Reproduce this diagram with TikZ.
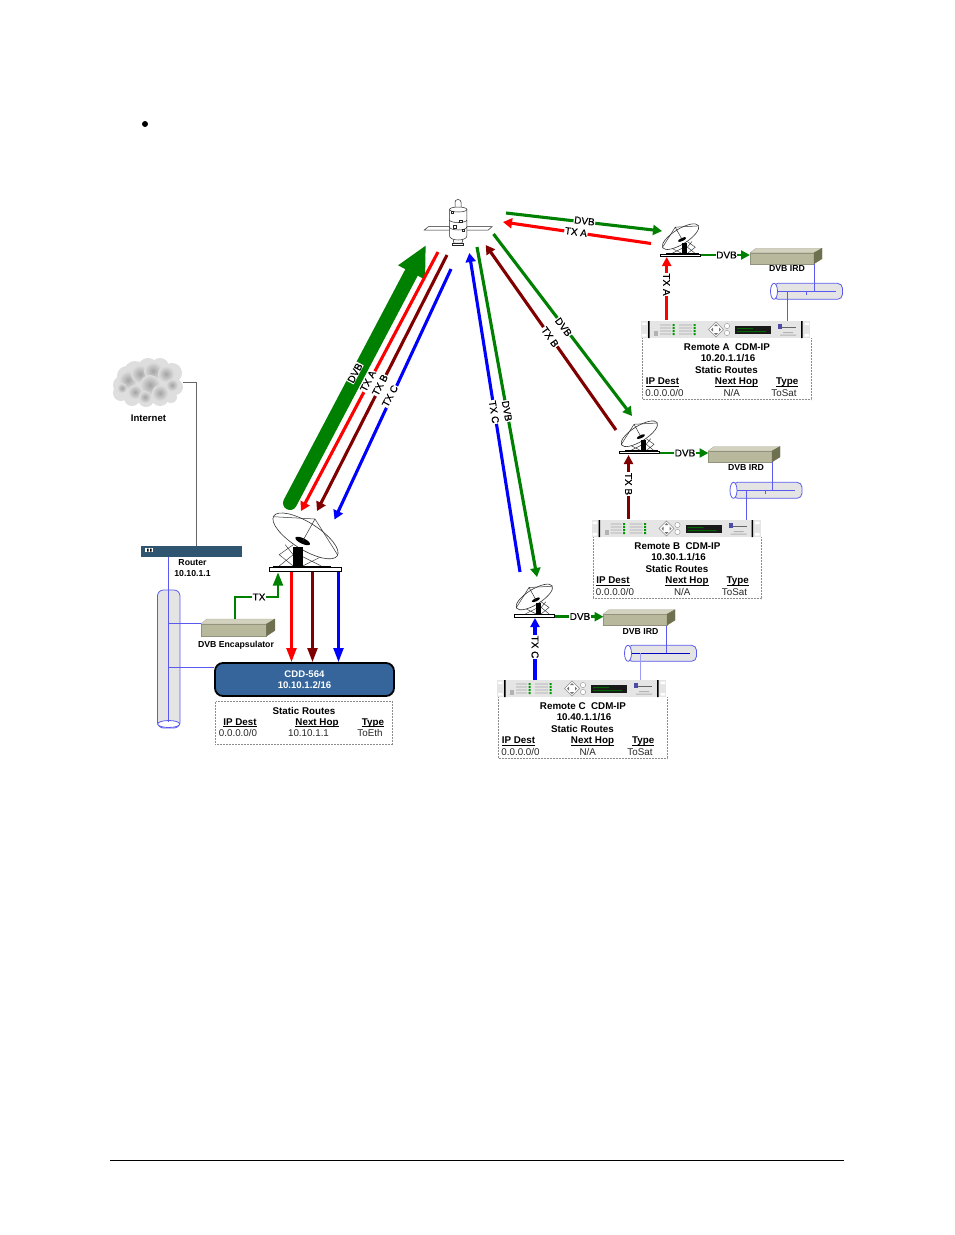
\documentclass[tikz,border=0pt]{standalone}
\usepackage{fontspec}
\setmainfont{Liberation Sans}
\newfontfamily\labfont[FakeBold=0.35]{Liberation Sans}
\usetikzlibrary{arrows.meta}
\newcommand{\ulx}[1]{\setbox0\hbox{#1}\rlap{\rule[-1.5pt]{\wd0}{0.7pt}}\box0 }
\definecolor{cgreen}{HTML}{008000}
\definecolor{cred}{HTML}{FF0000}
\definecolor{cdark}{HTML}{800000}
\definecolor{cblue}{HTML}{0000FF}
\definecolor{lanc}{HTML}{5A5AF0}
\definecolor{cyl}{HTML}{E4E4E4}
\definecolor{boxf}{HTML}{B8B89C}
\definecolor{boxt}{HTML}{D2D2BE}
\definecolor{boxs}{HTML}{6E7050}
\definecolor{cdd}{HTML}{35659A}
\definecolor{rtr}{HTML}{2F5570}
\tikzset{
  sig/.style={line width=3.1pt,-{Triangle[length=9pt,width=10pt]}},
  sigv/.style={line width=2.3pt,-{Triangle[length=14pt,width=10pt]}},
  sigs/.style={line width=3.1pt,-{Triangle[length=9pt,width=9pt]}},
  lab/.style={fill=white,inner sep=0.6pt,font=\fontsize{10}{11}\labfont},
  lanline/.style={draw=lanc,line width=0.7pt},
  tb/.style={inner sep=0,anchor=base,yshift=-3.4pt,font=\fontsize{9.8}{11}\selectfont\bfseries},
  tv/.style={inner sep=0,anchor=base,yshift=-3.4pt,text=black!85,font=\fontsize{9.8}{11}\selectfont},
  captext/.style={inner sep=0,font=\fontsize{8.7}{10}\selectfont\bfseries},
  dashbox/.style={draw=black!45,line width=0.5pt,densely dotted},
  satdish/.pic={
    \draw[line width=0.5pt,black!75] (-26,-5.7)--(-12,-17)--(-20,-27) (-12,-5.7)--(-26,-17)--(-12,-27)
      (-2.5,-5.7)--(16,-15) (16,-5.7)--(-2.5,-15);
    \filldraw[fill=white,draw=black!80,line width=0.6pt,rotate around={-32:(0.3,-35.8)}] (0.3,-35.8) ellipse [x radius=37.5pt,y radius=13.5pt];
    \fill (-11.8,-25) rectangle (-2.5,-5.7);
    \fill[rotate around={-25:(-2.5,-30.7)}] (-2.5,-30.7) ellipse [x radius=8pt,y radius=2.8pt];
    \draw[line width=0.5pt,black!80] (-31.8,-55)--(9.8,-52.7)--(32.5,-16.7) (9.8,-52.7)--(-2.5,-30.7);
    \draw[line width=0.5pt,fill=white] (-32,-5.7) rectangle (25,-4.3);
    \draw[line width=0.8pt,fill=white] (-36,-4.3) rectangle (36,0);
  },
  irdbox/.pic={
    \filldraw[fill=boxt,draw=boxt!80!black,line width=0.3pt] (0,4.5)--(6,0)--(72,0)--(64,4.5)--cycle;
    \filldraw[fill=boxf,draw=boxf!80!black,line width=0.3pt] (0,4.5) rectangle (64,15.5);
    \filldraw[fill=boxs,draw=boxs,line width=0.3pt] (64,4.5)--(72,0)--(72,10.5)--(64,15.5)--cycle;
  },
  hcyl/.pic={
    \filldraw[fill=cyl,draw=lanc,line width=0.8pt,rounded corners=5pt] (3,0) rectangle (72.5,16);
    \filldraw[fill=white,draw=lanc,line width=0.8pt] (4,8) ellipse [x radius=3.5pt,y radius=8pt];
  },
  rackunit/.pic={
    \fill[black!10] (0,0) rectangle (169,17);
    \fill[white] (1,1.5) rectangle (5.5,4) (1,13) rectangle (5.5,15.5) (163.5,1.5) rectangle (168,4) (163.5,13) rectangle (168,15.5);
    \fill (7,0) rectangle (8.6,17) (160,0) rectangle (161.6,17);
    \foreach \yy in {4,7,10,13}{
      \fill[black!35] (19,\yy-0.4) rectangle (30,\yy+0.4) (38,\yy-0.4) rectangle (51,\yy+0.4);
      \fill[green!60!black] (31.5,\yy-1) rectangle (33.5,\yy+1) (52.5,\yy-1) rectangle (54.5,\yy+1);
    }
    \fill[black!30] (13,10) rectangle (17,15);
    \filldraw[fill=white,draw=black!45,line width=0.4pt] (75,1)--(82.5,8.5)--(75,16)--(67.5,8.5)--cycle;
    \fill[black!55] (75,3)--(77,5)--(73,5)--cycle (75,14)--(77,12)--(73,12)--cycle (70,8.5)--(72,6.5)--(72,10.5)--cycle (80,8.5)--(78,6.5)--(78,10.5)--cycle;
    \draw[black!45,line width=0.4pt,fill=white] (86,5) circle [radius=2.6pt] (86,12) circle [radius=2.6pt];
    \fill[black!90] (94,5) rectangle (130,13);
    \fill[green!40!black] (96,7) rectangle (112,8) (96,10) rectangle (125,11);
    \fill[blue!50!black!70] (137,3) rectangle (141,8);
    \fill[black!60] (141,6) rectangle (155,7);
    \fill[black!30] (142,11) rectangle (152,12) (139,13.5) rectangle (155,14.5);
  }
}
% id, x, y, title, address
\newcommand{\remotetable}[5]{%
  \pic at (#2,#3) {rackunit};
  \draw[dashbox] (#2+1.5,#3+17) -- (#2+1.5,#3+78.5) -- (#2+170,#3+78.5) -- (#2+170,#3+17);
  \node[tb] (#1title) at (#2+86,#3+26) {#4};
  \node[tb] (#1addr) at (#2+87,#3+37.3) {#5};
  \node[tb] (#1sr) at (#2+85.5,#3+49) {Static Routes};
  \node[tb] (#1h1) at (#2+21.5,#3+60.3) {\ulx{IP Dest}};
  \node[tb] (#1h2) at (#2+95.5,#3+60.3) {\ulx{Next Hop}};
  \node[tb] (#1h3) at (#2+146.3,#3+60.3) {\ulx{Type}};
  \node[tv] (#1v1) at (#2+23.5,#3+71.7) {0.0.0.0/0};
  \node[tv] (#1v2) at (#2+90.7,#3+71.7) {N/A};
  \node[tv] (#1v3) at (#2+143,#3+71.7) {ToSat};
}
\begin{document}
\begin{tikzpicture}[x=1pt,y=-1pt]
\useasboundingbox (0,0) rectangle (954,1235);
\fill[white] (0,0) rectangle (954,1235);
% page furniture
\fill (145,124) circle [radius=3pt];
\coordinate (ruleL) at (110,1160.5); \coordinate (ruleR) at (844,1160.5);
\draw[line width=0.7pt] (ruleL) -- (ruleR);

% internet cloud
\foreach \cx/\cy/\r in {122/385/9,127/376/10,121/393/8,135/372/11,148/368/10,160/367/9,172/373/10,175/387/8,165/383/11,150/383/13,135/387/12,132/398/8,146/399/8,160/397/9,171/397/6}{
  \fill[black!13] (\cx,\cy) circle [radius=\r pt];
}
\foreach \cx/\cy/\r in {128/380/9,140/374/9,153/371/9,166/374/8,172/385/6,150/385/10,135/392/7,160/393/8,145/397/6,122/388/5}{
  \shade[inner color=black!36,outer color=black!13] (\cx,\cy) circle [radius=\r pt];
}
\node[captext,font=\fontsize{9.6}{11}\selectfont\bfseries] (internet) at (148.5,418.5) {Internet};
\coordinate (cloudE) at (183,382); \coordinate (rtrTop) at (196.5,546);
\draw[black!60,line width=0.7pt] (cloudE) -| (rtrTop);

% LAN cylinder
\filldraw[fill=cyl,draw=lanc,line width=0.8pt,rounded corners=6pt] (157.5,590) rectangle (180,728);
\filldraw[fill=white,draw=lanc,line width=0.8pt] (168.7,724) ellipse [x radius=11pt,y radius=3.5pt];

% router
\fill[rtr] (141,546) rectangle (242,557);
\fill[white] (145,547.5) rectangle (153,551.5);
\fill[black] (147,548.5) rectangle (148.5,551.5) (150,548.5) rectangle (151.5,551.5);
\node[captext] (router) at (192.5,562.8) {Router};
\node[captext] (routerip) at (192.5,573) {10.10.1.1};
\coordinate (rtrBot) at (168,557); \coordinate (lanEnd) at (168,722);
\draw[lanline] (rtrBot) -- (lanEnd);

% encapsulator
\pic[xscale=1.03,yscale=1.1] at (200.7,619) {irdbox};
\node[captext] (enc) at (236,645) {DVB Encapsulator};
\coordinate (tapA) at (168,623); \coordinate (encW) at (200.7,623);
\coordinate (tapB) at (168,667); \coordinate (cddW) at (214,667);
\draw[lanline] (tapA) -- (encW);
\draw[lanline] (tapB) -- (cddW);

% hub dish
\pic at (305.2,571.7) {satdish};

% CDD
\node[draw=black,line width=1.8pt,fill=cdd,rounded corners=8pt,minimum width=179pt,minimum height=33pt,inner sep=0,
  text=white,align=center,font=\fontsize{9.6}{11.3}\selectfont\bfseries] (cddbox) at (304.5,679.5) {CDD-564\\10.10.1.2/16};

% hub routes
\node[dashbox,minimum width=177.4pt,minimum height=42.6pt,inner sep=0] (hubtable) at (304,723) {};
\node[tb] (hubsr) at (304,711) {Static Routes};
\node[tb] (hubh1) at (240,722) {\ulx{IP Dest}};
\node[tb] (hubh2) at (317,722) {\ulx{Next Hop}};
\node[tb] (hubh3) at (373,722) {\ulx{Type}};
\node[tv] (hubv1) at (238,733.3) {0.0.0.0/0};
\node[tv] (hubv2) at (308.5,733.3) {10.10.1.1};
\node[tv] (hubv3) at (370,733.3) {ToEth};

% hub local arrows
\coordinate (encN) at (235,619); \coordinate (dishS) at (278,572.5);
\draw[line width=1.9pt,cgreen,-{Triangle[length=13pt,width=10pt]}] (encN) |- (278,597) -- (dishS);
\node[lab] (txl) at (259,597) {TX};
\foreach \n/\x/\c in {r/291.5/cred,d/312.5/cdark,b/338.5/cblue}{
  \coordinate (s\n) at (\x,571.5); \coordinate (e\n) at (\x,662);
  \draw[sigv,\c] (s\n) -- (e\n);
}

% satellite
\begin{scope}[line width=0.5pt,black!85]
\draw[fill=white] (424.3,230)--(428.3,226.7)--(451,226.7)--(451,230)--cycle;
\draw[fill=white] (465,226.7)--(492,226.7)--(488.3,230)--(465,230)--cycle;
\draw[fill=white] (455,209)--(455,202) arc[start angle=180,end angle=0,x radius=3pt,y radius=2.5pt]--(461,209);
\draw[fill=white] (453,239)--(454,243)--(462,243)--(463,239);
\draw[fill=white] (452.5,243) rectangle (463.5,245);
\draw[fill=white] (449.5,209.5) arc[start angle=180,end angle=0,x radius=8.7pt,y radius=2.5pt]
   -- (466.9,236) arc[start angle=0,end angle=-180,x radius=8.7pt,y radius=4pt] -- cycle;
\draw (449.5,209.5) arc[start angle=180,end angle=360,x radius=8.7pt,y radius=2.5pt];
\draw (449.5,220) arc[start angle=180,end angle=360,x radius=8.7pt,y radius=2.5pt];
\draw (449.5,227) arc[start angle=180,end angle=360,x radius=8.7pt,y radius=3pt];
\draw (451,211) rectangle (453.5,213.5) (459,220) rectangle (462,222.5) (453,225) rectangle (456,228) (462,229) rectangle (464.5,231.5);
\end{scope}

% satellite hub links
\coordinate (dvbS) at (290,503); \coordinate (dvbE) at (426,245);
\draw[line width=14pt,cgreen,line cap=round,-{Triangle[length=31pt,width=28pt]}] (dvbS) -- (dvbE);
\coordinate (a1) at (438,252); \coordinate (a2) at (301,511);
\draw[sig,cred] (a1) -- (a2);
\coordinate (b1) at (447,255); \coordinate (b2) at (317,511);
\draw[sig,cdark] (b1) -- (b2);
\coordinate (c1) at (451,269); \coordinate (c2) at (334.5,519.5);
\draw[sig,cblue] (c1) -- (c2);
\node[lab,rotate=62] (ldvb) at (355,373) {DVB};
\node[lab,rotate=62] (ltxa) at (368,381) {TX A};
\node[lab,rotate=62] (ltxb) at (380,385) {TX B};
\node[lab,rotate=62] (ltxc) at (390,396) {TX C};

% satellite remote links
\coordinate (da1) at (506,213); \coordinate (da2) at (662,231);
\draw[sig,cgreen] (da1) -- (da2);
\node[lab,rotate=-6.6] (ldvba) at (584.5,221) {DVB};
\coordinate (ta1) at (651,243.5); \coordinate (ta2) at (503,222);
\draw[sig,cred] (ta1) -- (ta2);
\node[lab,rotate=-8] (ltxa2) at (576,232) {TX A};
\coordinate (db1) at (493.5,234); \coordinate (db2) at (632,416);
\draw[sig,cgreen] (db1) -- (db2);
\node[lab,rotate=-52.6] (ldvbb) at (563.5,327) {DVB};
\coordinate (tb1) at (616,430); \coordinate (tb2) at (485.7,245);
\draw[sig,cdark] (tb1) -- (tb2);
\node[lab,rotate=-54.9] (ltxb2) at (550,337) {TX B};
\coordinate (tc1) at (520,572); \coordinate (tc2) at (469.3,253);
\draw[sig,cblue] (tc1) -- (tc2);
\node[lab,rotate=-80.9] (ltxc2) at (494,412) {TX C};
\coordinate (dc1) at (477,247); \coordinate (dc2) at (537,577);
\draw[sig,cgreen] (dc1) -- (dc2);
\node[lab,rotate=-79.7] (ldvbc) at (507,411) {DVB};

% Remote A
\pic[xscale=-0.56,yscale=0.56] at (680.7,256.7) {satdish};
\pic at (750,248.3) {irdbox};
\node[captext] (irdA) at (787,269) {DVB IRD};
\pic at (770,283.3) {hcyl};
\coordinate (lA1) at (778,291); \coordinate (lA2) at (836,291);
\draw[lanline] (lA1) -- (lA2);
\coordinate (iA) at (814,263.5); \coordinate (iA2) at (814,291); \draw[lanline] (iA) -- (iA2);
\coordinate (tkA) at (806.7,291); \coordinate (tkA2) at (806.7,295); \draw[lanline] (tkA) -- (tkA2);
\coordinate (mA) at (787.3,291); \coordinate (mA2) at (787.3,321); \draw[lanline] (mA) -- (mA2);
\remotetable{A}{641}{321}{Remote A\ \ CDM-IP}{10.20.1.1/16}
\coordinate (rA) at (666.7,320); \coordinate (dA) at (666.7,257);
\draw[sigs,cred] (rA) -- (dA);
\node[lab,rotate=-90] (ltA) at (666.5,284.5) {TX A};
\coordinate (oA) at (700.5,255); \coordinate (eA) at (750,255);
\draw[sigs,cgreen,line width=2.6pt] (oA) -- (eA);
\node[lab] (lA) at (726.5,255) {DVB};

% Remote B
\pic[xscale=-0.56,yscale=0.56] at (639.5,453.8) {satdish};
\pic at (708,446.5) {irdbox};
\node[captext] (irdB) at (746,467.5) {DVB IRD};
\pic at (729.5,482.3) {hcyl};
\coordinate (lB1) at (737,490); \coordinate (lB2) at (795,490);
\draw[lanline] (lB1) -- (lB2);
\coordinate (iB) at (772.3,462); \coordinate (iB2) at (772.3,490); \draw[lanline] (iB) -- (iB2);
\coordinate (tkB) at (765.7,490); \coordinate (tkB2) at (765.7,494); \draw[lanline] (tkB) -- (tkB2);
\coordinate (mB) at (746.7,490); \coordinate (mB2) at (746.7,520); \draw[lanline] (mB) -- (mB2);
\remotetable{B}{591.5}{520}{Remote B\ \ CDM-IP}{10.30.1.1/16}
\coordinate (rB) at (628.5,519); \coordinate (dB) at (628.5,455);
\draw[sigs,cdark] (rB) -- (dB);
\node[lab,rotate=-90] (ltB) at (628.5,484) {TX B};
\coordinate (oB) at (659.5,453); \coordinate (eB) at (708.5,453);
\draw[sigs,cgreen,line width=2.6pt] (oB) -- (eB);
\node[lab] (lB) at (685,453) {DVB};

% Remote C
\pic[xscale=-0.56,yscale=0.56] at (534.5,617) {satdish};
\pic at (603,609.7) {irdbox};
\node[captext] (irdC) at (640.5,631) {DVB IRD};
\pic at (624,645.3) {hcyl};
\coordinate (lC1) at (631.7,653.3); \coordinate (lC2) at (690,653.3);
\draw[cblue!75!black,line width=0.7pt] (lC1) -- (lC2);
\coordinate (iC) at (666.7,625.5); \coordinate (iC2) at (666.7,653.3); \draw[lanline] (iC) -- (iC2);
\coordinate (mC) at (640.7,653.3); \coordinate (mC2) at (640.7,680); \draw[lanline,draw=lanc!60] (mC) -- (mC2);
\remotetable{C}{497}{680}{Remote C\ \ CDM-IP}{10.40.1.1/16}
\coordinate (rC) at (535,680); \coordinate (dC) at (535,618);
\draw[sigs,cblue] (rC) -- (dC);
\node[lab,rotate=-90] (ltC) at (535,647) {TX C};
\coordinate (oC) at (555,616.7); \coordinate (eC) at (603.5,616.7);
\draw[sigs,cgreen,line width=2.6pt] (oC) -- (eC);
\node[lab] (lC) at (580,616.5) {DVB};
\end{tikzpicture}
\end{document}
